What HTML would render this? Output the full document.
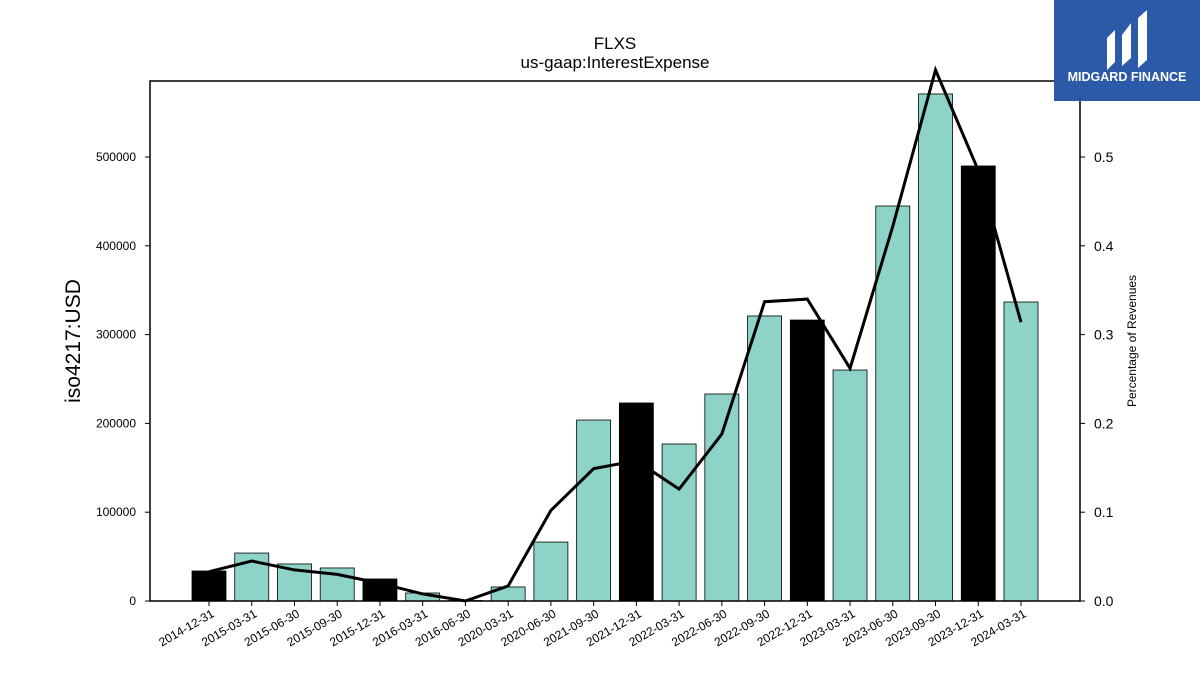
<!DOCTYPE html>
<html><head><meta charset="utf-8"><style>
body{margin:0;background:#fff;width:1200px;height:675px;overflow:hidden;font-family:"Liberation Sans",sans-serif}
</style></head><body>
<svg id="chart" width="1200" height="675" xmlns="http://www.w3.org/2000/svg" font-family="Liberation Sans, sans-serif">
<text x="615" y="49" text-anchor="middle" font-size="17">FLXS</text>
<text x="615" y="68" text-anchor="middle" font-size="17">us-gaap:InterestExpense</text>
<g id="bars"></g><g id="xt"></g><g id="yl"></g><g id="yr"></g>
<path id="ratio-line" fill="none" stroke="#000" stroke-width="3"/>
<rect x="150" y="81" width="930" height="520" fill="none" stroke="#000" stroke-width="1.5"/>
<text transform="translate(80,341) rotate(-90)" text-anchor="middle" font-size="21">iso4217:USD</text>
<text transform="translate(1136,341) rotate(-90)" text-anchor="middle" font-size="12">Percentage of Revenues</text>
<g>
<rect x="1054" y="0" width="146" height="101" fill="#2c5aa8"/>
<path d="M1107 70 L1107 38 L1115 30 L1115 62 Z M1122 66 L1122 35 L1131 23 L1131 58 Z M1138 68 L1138 18 L1147 10 L1147 60 Z" fill="#fff"/>
<text x="1127" y="81" text-anchor="middle" font-size="12.5" font-weight="bold" fill="#fff">MIDGARD FINANCE</text>
</g>
</svg>
<script>
const categories=["2014-12-31","2015-03-31","2015-06-30","2015-09-30","2015-12-31","2016-03-31","2016-06-30","2020-03-31","2020-06-30","2021-09-30","2021-12-31","2022-03-31","2022-06-30","2022-09-30","2022-12-31","2023-03-31","2023-06-30","2023-09-30","2023-12-31","2024-03-31"];
const values=[33800,54000,41700,37200,24800,9000,500,15800,66400,203800,223000,176800,233100,321000,316400,260100,444800,571000,489900,336700];
const ratios=[0.033,0.045,0.035,0.030,0.020,0.008,0.0,0.017,0.102,0.149,0.158,0.126,0.188,0.337,0.340,0.262,0.422,0.598,0.485,0.314];
const isYearEnd=[1,0,0,0,1,0,0,0,0,0,1,0,0,0,1,0,0,0,1,0];
const leftTicks=[0,100000,200000,300000,400000,500000];
const rightTicks=[0.0,0.1,0.2,0.3,0.4,0.5];
const NS="http://www.w3.org/2000/svg";
const x=i=>209+i*(1021-209)/19;
const yL=v=>601-v*(444/500000);
const yR=v=>601-v*(444/0.5);
function mk(t,a,p){const e=document.createElementNS(NS,t);for(const k in a)e.setAttribute(k,a[k]);document.getElementById(p).appendChild(e);return e;}
categories.forEach((c,i)=>{
 const b=mk('rect',{x:x(i)-17,y:yL(values[i]),width:34,height:601-yL(values[i]),fill:isYearEnd[i]?'#000':'#8dd3c7',stroke:'#000','stroke-width':0.8},'bars');
 
 
 mk('line',{x1:x(i),x2:x(i),y1:601,y2:606,stroke:'#000'},'xt');
 const t=mk('text',{transform:`translate(${x(i)+6},${616}) rotate(-30)`,'text-anchor':'end','font-size':12},'xt');
 t.textContent=c;
 
 
});
leftTicks.forEach(v=>{
 mk('line',{x1:145,x2:150,y1:yL(v),y2:yL(v),stroke:'#000'},'yl');
 const t=mk('text',{x:136,y:yL(v)+4,'text-anchor':'end','font-size':12},'yl');t.textContent=String(v);
 
 
});
rightTicks.forEach(v=>{
 mk('line',{x1:1080,x2:1085,y1:yR(v),y2:yR(v),stroke:'#000'},'yr');
 const t=mk('text',{x:1094,y:yR(v)+5,'font-size':14},'yr');t.textContent=v.toFixed(1);
 
 
});
document.getElementById('ratio-line').setAttribute('d',ratios.map((r,i)=>(i?'L':'M')+x(i)+' '+yR(r)).join(' '));
</script>
</body></html>
